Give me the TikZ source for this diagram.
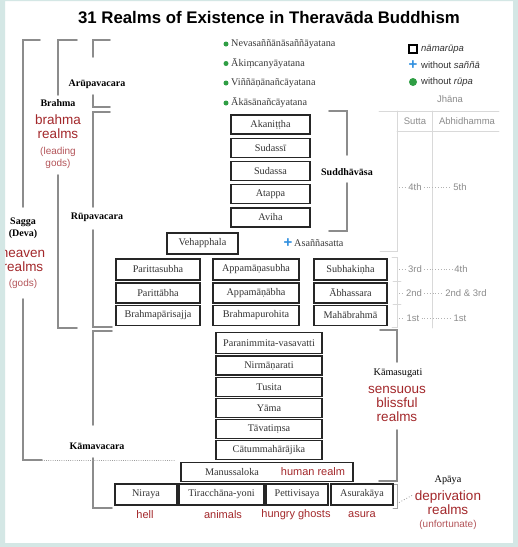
\documentclass[tikz,border=0pt]{standalone}
\usepackage{amsmath, amssymb}
\usepackage{fontspec}
\setmainfont{Liberation Serif}
\setsansfont{Liberation Sans}
\usepackage{tikz}
\usetikzlibrary{calc}
\usepackage{tkz-euclide}
\usepackage{xcolor}
\definecolor{panelteal}{HTML}{D4E7E5}
\definecolor{realmred}{HTML}{A3282B}
\definecolor{softred}{HTML}{B4555A}
\definecolor{dotgreen}{HTML}{2F9E44}
\definecolor{plusblue}{HTML}{2F8FDF}

\begin{document}
\begin{tikzpicture}[x = 1pt, y = -1pt,
            realm/.style = {draw = black!85, line width = 1.4pt, inner sep = 0pt, minimum height = 19, text = black!80, font = \fontsize{10.2}{12}\selectfont},
            plane/.style = {font = \bfseries\fontsize{10}{12}\selectfont, inner sep = 0pt, align = center},
            plainname/.style = {font = \fontsize{10.2}{12}\selectfont, inner sep = 0pt, align = center},
            gloss/.style = {text = realmred, font = \sffamily\fontsize{13.5}{14}\selectfont, inner sep = 0pt, align = center},
            softnote/.style = {text = softred, font = \sffamily\fontsize{10}{12}\selectfont, inner sep = 0pt, align = center},
            worldname/.style = {text = realmred, font = \sffamily\fontsize{11}{12}\selectfont, inner sep = 0pt},
            bracket/.style = {draw = black!45, line width = 1.6pt},
            jline/.style = {draw = black!15, line width = 0.9pt},
            jdots/.style = {draw = black!30, dotted, line width = 0.8pt},
            jtext/.style = {text = black!45, font = \sffamily\fontsize{9.5}{11}\selectfont, inner sep = 0pt},
            gdot/.style = {circle, fill = dotgreen, minimum size = 5, inner sep = 0pt},
            arupa/.style = {anchor = west, text = black!78, font = \fontsize{10.2}{12}\selectfont, inner sep = 0pt},
            legtext/.style = {anchor = west, text = black!80, font = \sffamily\fontsize{9.5}{11}\selectfont, inner sep = 0pt},
            bluecross/.style = {text = plusblue, font = \sffamily\bfseries\fontsize{15}{15}\selectfont, inner sep = 0pt}]
            \useasboundingbox (0,0) rectangle (518,547);
            \fill[white] (0,0) rectangle (518,547);
            \node[font = \sffamily\bfseries\fontsize{16.8}{20}\selectfont] (title) at (269,17.5) {31 Realms of Existence in Theravāda Buddhism};
            \tkzDefPoints{40/40/sgA, 23/40/sgB, 23/207/sgC, 23/299/sgD, 23/460/sgE, 42/460/sgF, 175/460/sgG}
            \tkzDefPoints{77/40/brA, 58/40/brB, 58/95/brC, 58/175/brD, 58/328/brE, 77/328/brF}
            \tkzDefPoints{110/40/arA, 93/40/arB, 93/57/arC, 93/95/arD, 93/107/arE, 110/107/arF}
            \tkzDefPoints{110/112/ruA, 93/112/ruB, 93/207/ruC, 93/230/ruD, 93/327/ruE, 112/327/ruF}
            \tkzDefPoints{112/331/kaA, 93/331/kaB, 93/425/kaC, 93/458/kaD, 93/508/kaE, 112/508/kaF}
            \tkzDefPoints{329/111/suA, 347/111/suB, 347/155/suC, 347/183/suD, 347/231/suE, 329/231/suF}
            \tkzDefPoints{380/330/ksA, 397/330/ksB, 397/362/ksC, 397/430/ksD, 397/481/ksE, 379/481/ksF}
            \tkzDefPoints{393/484/apA, 397/484/apB, 397/508/apC, 393/508/apD}
            \tkzDefPoints{379/111/jhA, 499/111/jhB, 397/131/jhC, 499/131/jhD, 432/111/jhE, 432/328/jhF, 397/111/jhI, 397/251/jhG, 380/251/jhH}
            \tkzDefPoints{392/257/jsA, 397/257/jsB, 397/327/jsC, 392/327/jsD, 393/281/jsE, 401/281/jsF, 393/304/jsG, 401/304/jsH}
            \tkzDrawPolySeg[bracket](sgA,sgB,sgC)
            \tkzDrawPolySeg[bracket](sgD,sgE,sgF)
            \tkzDrawPolySeg[bracket](brA,brB,brC)
            \tkzDrawPolySeg[bracket](brD,brE,brF)
            \tkzDrawPolySeg[bracket](arA,arB,arC)
            \tkzDrawPolySeg[bracket](arD,arE,arF)
            \tkzDrawPolySeg[bracket](ruA,ruB,ruC)
            \tkzDrawPolySeg[bracket](ruD,ruE,ruF)
            \tkzDrawPolySeg[bracket](kaA,kaB,kaC)
            \tkzDrawPolySeg[bracket](kaD,kaE,kaF)
            \tkzDrawPolySeg[bracket](suA,suB,suC)
            \tkzDrawPolySeg[bracket](suD,suE,suF)
            \tkzDrawPolySeg[bracket](ksA,ksB,ksC)
            \tkzDrawPolySeg[bracket](ksD,ksE,ksF)
            \tkzDrawPolySeg[jline, draw = black!35](apA,apB,apC,apD)
            \tkzDrawSegments[jdots, draw = black!40](sgF,sgG)
            \tkzDrawSegments[jline](jhA,jhB jhC,jhD jhE,jhF)
            \tkzDrawPolySeg[jline](jhI,jhG,jhH)
            \tkzDrawPolySeg[jline](jsA,jsB,jsC,jsD)
            \tkzDrawSegments[jline](jsE,jsF jsG,jsH)
            \node[plane] (arupavacara) at (97,84) {Arūpavacara};
            \node[plane] (brahma) at (58,103) {Brahma};
            \node[gloss] (brahmagloss) at (58,127) {brahma\\realms};
            \node[softnote] (leading) at (58,158) {(leading\\gods)};
            \node[plane] (rupavacara) at (97,217) {Rūpavacara};
            \node[plane] (sagga) at (23,228.5) {Sagga\\(Deva)};
            \node[gloss] (heaven) at (23,260) {heaven\\realms};
            \node[softnote] (gods) at (23,284) {(gods)};
            \node[plane] (kamavacara) at (97,446) {Kāmavacara};
            \node[gdot] (dneva) at (226,44) {};
            \node[gdot] (dakin) at (226,63.5) {};
            \node[gdot] (dvinn) at (226,83) {};
            \node[gdot] (dakas) at (226,103) {};
            \node[arupa] (neva) at (231,44) {Nevasaññānāsaññāyatana};
            \node[arupa] (akin) at (231,63.5) {Ākiṃcanyāyatana};
            \node[arupa] (vinn) at (231,83) {Viññāṇānañcāyatana};
            \node[arupa] (akas) at (231,103) {Ākāsānañcāyatana};
            \node[draw = black, line width = 1.5pt, minimum size = 8, inner sep = 0pt] (legbox) at (413,49) {};
            \node[bluecross] (legplus) at (413,65.5) {+};
            \node[circle, fill = dotgreen, minimum size = 8, inner sep = 0pt] (legdot) at (413,82) {};
            \node[legtext] (legboxtxt) at (421,49) {\itshape nāmarūpa};
            \node[legtext] (legplustxt) at (421,65.5) {without \textit{saññā}};
            \node[legtext] (legdottxt) at (421,82) {without \textit{rūpa}};
            \node[jtext] (jhana) at (450,99) {Jhāna};
            \node[jtext] (sutta) at (415,121) {Sutta};
            \node[jtext] (abhidhamma) at (467,121) {Abhidhamma};
            \node[jtext] (sutta4) at (415,187) {4th};
            \node[jtext] (abhi4) at (460,187) {5th};
            \node[jtext] (sutta3) at (415,269) {3rd};
            \node[jtext] (abhi3) at (461,269) {4th};
            \node[jtext] (sutta2) at (414,293) {2nd};
            \node[jtext] (abhi2) at (466,293) {2nd \& 3rd};
            \node[jtext] (sutta1) at (413,318) {1st};
            \node[jtext] (abhi1) at (460,318) {1st};
            \foreach \r in {4,3,2,1}
                \draw[jdots] (jhI |- sutta\r.west) ++(2,0) -- ([xshift = -2]sutta\r.west) ([xshift = 2]sutta\r.east) -- ([xshift = -2]abhi\r.west);
            \node[realm, minimum width = 79] (akanittha) at (270.5,124.5) {Akaniṭṭha};
            \node[realm, minimum width = 79] (sudassi) at (270.5,148) {Sudassī};
            \node[realm, minimum width = 79] (sudassa) at (270.5,171) {Sudassa};
            \node[realm, minimum width = 79] (atappa) at (270.5,194) {Atappa};
            \node[realm, minimum width = 79] (aviha) at (270.5,217.5) {Aviha};
            \node[plane] (suddhavasa) at (347,172) {Suddhāvāsa};
            \node[realm, minimum width = 71, minimum height = 21] (vehapphala) at (202.5,243.5) {Vehapphala};
            \node[bluecross] (asplus) at (288,243.5) {+};
            \node[arupa] (asanna) at (294,243.5) {Asaññasatta};
            \node[realm, minimum width = 84, minimum height = 21] (parittasubha) at (158,269.5) {Parittasubha};
            \node[realm, minimum width = 86, minimum height = 21] (appamanasubha) at (256,269.5) {Appamāṇasubha};
            \node[realm, minimum width = 73, minimum height = 21] (subhakinha) at (350.5,269.5) {Subhakiṇha};
            \node[realm, minimum width = 84, minimum height = 20] (parittabha) at (158,293) {Parittābha};
            \node[realm, minimum width = 86, minimum height = 20] (appamanabha) at (256,293) {Appamāṇābha};
            \node[realm, minimum width = 73, minimum height = 20] (abhassara) at (350.5,293) {Ābhassara};
            \node[realm, minimum width = 84, minimum height = 20] (parisajja) at (158,315.5) {Brahmapārisajja};
            \node[realm, minimum width = 86, minimum height = 20] (purohita) at (256,315.5) {Brahmapurohita};
            \node[realm, minimum width = 73, minimum height = 20] (mahabrahma) at (350.5,315.5) {Mahābrahmā};
            \node[realm, minimum width = 106, minimum height = 21] (paranimmita) at (269,343) {Paranimmita-vasavatti};
            \node[realm, minimum width = 106] (nimmanarati) at (269,365.5) {Nirmāṇarati};
            \node[realm, minimum width = 106] (tusita) at (269,387) {Tusita};
            \node[realm, minimum width = 106] (yama) at (269,408) {Yāma};
            \node[realm, minimum width = 106] (tavatimsa) at (269,429) {Tāvatiṃsa};
            \node[realm, minimum width = 106] (catummaharajika) at (269,450) {Cātummahārājika};
            \node[realm, minimum width = 172] (manussaloka) at (267,472) {};
            \node[plainname, text = black!80] (manussa) at (232,472) {Manussaloka};
            \node[worldname] (human) at (313,472) {human realm};
            \node[realm, minimum width = 62, minimum height = 21] (niraya) at (146,494.5) {Niraya};
            \node[realm, minimum width = 85, minimum height = 21] (tiracchana) at (221.5,494.5) {Tiracchāna-yoni};
            \node[realm, minimum width = 62, minimum height = 21] (pettivisaya) at (297,494.5) {Pettivisaya};
            \node[realm, minimum width = 62, minimum height = 21] (asurakaya) at (362,494.5) {Asurakāya};
            \node[worldname] (hell) at (145,515) {hell};
            \node[worldname] (animals) at (223,515) {animals};
            \node[worldname] (ghosts) at (296,515) {hungry ghosts};
            \node[worldname] (asura) at (362,515) {asura};
            \node[plainname] (kamasugati) at (398,373) {Kāmasugati};
            \node[gloss] (sensuous) at (397,403.5) {sensuous\\blissful\\realms};
            \node[plainname] (apaya) at (448,480) {Apāya};
            \node[gloss] (deprivation) at (448,502.5) {deprivation\\realms};
            \node[softnote] (unfortunate) at (448,525) {(unfortunate)};
            \draw[jdots, draw = black!40] (apB |- deprivation.west) ++(2,0) -- ([xshift = -2]deprivation.west |- apB |- 0,495);
            \fill[panelteal, even odd rule] (0,0) rectangle (518,547) (5,1) rectangle (513,543);
        \end{tikzpicture}
\end{document}
